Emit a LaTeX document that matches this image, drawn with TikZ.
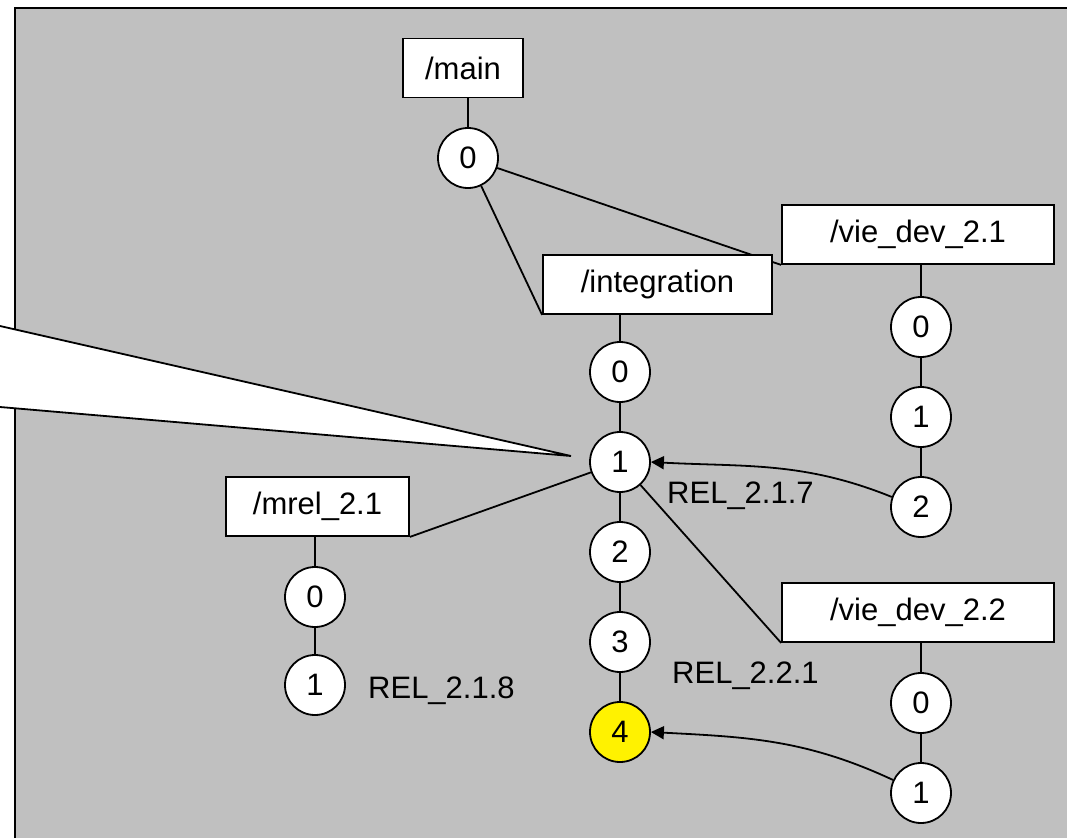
\documentclass[tikz,border=0pt]{standalone}
\usepackage{fontspec}
\setmainfont{Liberation Sans}
\usetikzlibrary{arrows.meta}
\definecolor{bggray}{RGB}{192,192,192}
\pgfdeclarelayer{bglayer}
\pgfdeclarelayer{edgelayer}
\pgfsetlayers{bglayer,edgelayer,main}
\begin{document}
\begin{tikzpicture}[x=1pt,y=-1pt,
  box/.style={draw, fill=white, line width=1.8pt, minimum height=59pt, inner sep=0pt, font=\fontsize{31pt}{36pt}\selectfont},
  ver/.style={circle, draw, fill=white, line width=1.8pt, minimum size=60pt, inner sep=0pt, font=\fontsize{31pt}{36pt}\selectfont},
  conn/.style={line width=1.8pt},
  rel/.style={anchor=base west, inner sep=0pt, font=\fontsize{31pt}{36pt}\selectfont},
  arr/.style={line width=1.8pt, -{Triangle[length=13pt,width=13pt]}}]
\useasboundingbox (0,0) rectangle (1068,838);
\begin{pgfonlayer}{bglayer}
  \fill[white] (0,0) rectangle (1068,838);
  \fill[bggray] (15,8) rectangle (1066.5,838);
  \draw[line width=2.5pt] (15,838) -- (15,8) -- (1066.5,8);
  \fill[white] (0,326) -- (571,456) -- (0,407) -- cycle;
  \draw[line width=1.8pt] (0,326) -- (571,456) -- (0,407);
\end{pgfonlayer}
% nodes
\node[box, minimum width=120pt] (main) at (463,68) {/main};
\node[ver] (m0) at (468,158) {0};
\node[box, minimum width=229pt] (integ) at (657.5,284.5) {/integration};
\node[ver] (i0) at (620,372) {0};
\node[ver] (i1) at (620,462) {1};
\node[ver] (i2) at (620,552) {2};
\node[ver] (i3) at (620,642) {3};
\node[ver, fill=yellow] (i4) at (620,732) {4};
\node[box, minimum width=272pt] (v1) at (918,234.5) {/vie\_dev\_2.1};
\node[ver] (v10) at (921,327) {0};
\node[ver] (v11) at (921,417) {1};
\node[ver] (v12) at (921,507) {2};
\node[box, minimum width=272pt] (v2) at (918,612.5) {/vie\_dev\_2.2};
\node[ver] (v20) at (921,703) {0};
\node[ver] (v21) at (921,793) {1};
\node[box, minimum width=183pt] (mrel) at (317.5,506.5) {/mrel\_2.1};
\node[ver] (mr0) at (315,597) {0};
\node[ver] (mr1) at (315,685) {1};
\node[rel] (l217) at (667,503) {REL\_2.1.7};
\node[rel] (l221) at (672,683) {REL\_2.2.1};
\node[rel] (l218) at (368,698) {REL\_2.1.8};
\begin{pgfonlayer}{edgelayer}
  \draw[conn] (main.south -| m0) -- (m0);
  \draw[conn] (m0) -- (integ.south west);
  \draw[conn] (m0) -- (v1.south west);
  \draw[conn] (integ.south -| i0) -- (i0) -- (i1) -- (i2) -- (i3) -- (i4);
  \draw[conn] (v1.south -| v10) -- (v10) -- (v11) -- (v12);
  \draw[conn] (v2.south -| v20) -- (v20) -- (v21);
  \draw[conn] (mrel.south -| mr0) -- (mr0) -- (mr1);
  \draw[conn] (i1) -- (mrel.south east);
  \draw[conn] (i1) -- (v2.south west);
  \draw[arr] (v12.161) to[out=158,in=-3] (i1.east);
  \draw[arr] (v21.155) to[out=155,in=-3] (i4.east);
\end{pgfonlayer}
\end{tikzpicture}
\end{document}
